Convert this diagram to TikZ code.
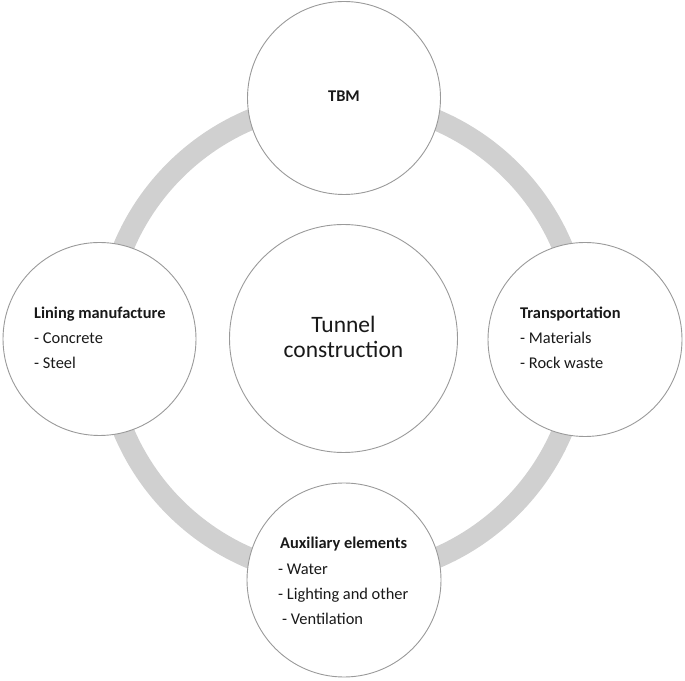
\documentclass[tikz,border=0pt]{standalone}
\usepackage{fontspec}
\setmainfont{Carlito}
\definecolor{ringgray}{HTML}{D0D0D0}
\definecolor{edgegray}{HTML}{9A9A9A}
\tikzset{
  bubble/.style={circle, draw=edgegray, line width=0.9pt, fill=white, inner sep=0pt},
  lbl/.style={anchor=base west, inner sep=0pt, font=\fontsize{16.4}{19}\selectfont, text=black!90},
  hdr/.style={lbl, font=\fontsize{16.4}{19}\selectfont\bfseries},
  bigtxt/.style={anchor=base, inner sep=0pt, font=\fontsize{23.5}{28}\selectfont, text=black!90}
}
\begin{document}
\begin{tikzpicture}[x=1pt,y=1pt]
\useasboundingbox (0,0) rectangle (685,680);
% ring
\draw[ringgray, line width=21pt] (343,341) circle (238);
% circles
\node[bubble, minimum size=228pt] (core) at (343.5,341.5) {};
\node[bubble, minimum size=193pt] (tbm) at (344,582) {};
\node[bubble, minimum size=193pt] (lining) at (99.5,341) {};
\node[bubble, minimum size=194pt] (transp) at (585,340.5) {};
\node[bubble, minimum size=194pt] (aux) at (344,100) {};
% centre text
\node[bigtxt] (t1) at (343.5,347) {Tunnel};
\node[bigtxt] (t2) at (343.5,322) {construction};
% TBM
\node[hdr, anchor=base] (tbmtxt) at (344,578) {TBM};
% lining
\node[hdr] (l0) at (34,361) {Lining manufacture};
\node[lbl] (l1) at (34,336) {- Concrete};
\node[lbl] (l2) at (34,311) {- Steel};
% transportation
\node[hdr] (r0) at (520,361) {Transportation};
\node[lbl] (r1) at (520,336) {- Materials};
\node[lbl] (r2) at (520,311) {- Rock waste};
% auxiliary
\node[hdr] (a0) at (280,131) {Auxiliary elements};
\node[lbl] (a1) at (278,106) {- Water};
\node[lbl] (a2) at (278,81) {- Lighting and other};
\node[lbl] (a3) at (282,56) {- Ventilation};
\end{tikzpicture}
\end{document}
